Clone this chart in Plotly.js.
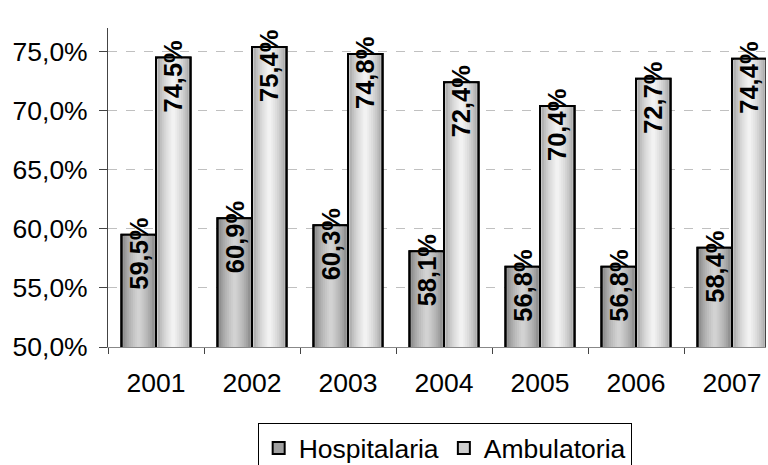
<!DOCTYPE html>
<html>
<head>
<meta charset="utf-8">
<script src="https://cdn.plot.ly/plotly-3.0.1.min.js"></script>
<style>html,body{margin:0;padding:0;background:#fff;}#chart{width:768px;height:465px;}</style>
</head>
<body>
<div id="chart"></div>
<script>
const years = ['2001', '2002', '2003', '2004', '2005', '2006', '2007'];
const hospitalaria = [59.5, 60.9, 60.3, 58.1, 56.8, 56.8, 58.4];
const ambulatoria = [74.5, 75.4, 74.8, 72.4, 70.4, 72.7, 74.4];
const yTickVals = [50, 55, 60, 65, 70, 75];
const yTickText = ['50,0%', '55,0%', '60,0%', '65,0%', '70,0%', '75,0%'];

const FONT = 'Liberation Sans, Arial, sans-serif';
const FS = 26.5;
const BAR_W = 0.36;

function lerp(a, b, t) { return Math.round(a + (b - a) * t); }
function grey(v) { return 'rgb(' + v + ',' + v + ',' + v + ')'; }

function barSeries(name, y, offset, edge, center, legendGrey) {
  const traces = [];
  const n = 9;
  const c = 0.5;
  for (let i = 0; i < n; i++) {
    const frac = 1 - i / n;
    const w = BAR_W * frac;
    const off = offset + BAR_W * c - w * c;
    const col = i === 0 ? grey(legendGrey) : grey(lerp(edge, center, Math.sqrt(i / (n - 1))));
    traces.push({
      type: 'bar', x: years, y: y, name: name,
      width: w, offset: off,
      marker: { color: col, line: { color: '#000', width: i === 0 ? 2 : 0 } },
      showlegend: i === 0, hoverinfo: i === 0 ? 'x+y' : 'skip'
    });
  }
  traces.push({
    type: 'bar', x: years, y: y, name: name,
    width: BAR_W, offset: offset,
    marker: { color: 'rgba(0,0,0,0)', line: { color: '#000', width: 2 } },
    showlegend: false, hoverinfo: 'skip'
  });
  return traces;
}

const data = [].concat(
  barSeries('Hospitalaria', hospitalaria, -BAR_W, 110, 210, 160),
  barSeries('Ambulatoria', ambulatoria, 0, 140, 242, 205)
);

function fmt(v) { return v.toFixed(1).replace('.', ',') + '%'; }

const annotations = [];
years.forEach((yr, i) => {
  annotations.push({
    x: i, y: hospitalaria[i], xref: 'x', yref: 'y',
    text: fmt(hospitalaria[i]), showarrow: false, textangle: -90,
    xanchor: 'center', yanchor: 'middle', xshift: -17, yshift: -19,
    font: { family: FONT, size: 25.5, color: '#000', weight: 'bold' }
  });
  annotations.push({
    x: i, y: ambulatoria[i], xref: 'x', yref: 'y',
    text: fmt(ambulatoria[i]), showarrow: false, textangle: -90,
    xanchor: 'center', yanchor: 'middle', xshift: 17, yshift: -19,
    font: { family: FONT, size: 25.5, color: '#000', weight: 'bold' }
  });
});

const layout = {
  width: 768, height: 465,
  margin: { l: 108, r: 2, t: 28, b: 118, autoexpand: false },
  paper_bgcolor: '#fff', plot_bgcolor: '#fff',
  font: { family: FONT, size: FS, color: '#000' },
  barmode: 'overlay',
  showlegend: true,
  xaxis: {
    type: 'category', range: [-0.5, 6.354],
    showline: true, linecolor: '#888', linewidth: 1,
    ticks: 'outside', tickson: 'boundaries', ticklen: 6, tickcolor: '#444',
    ticklabelstandoff: 12,
    showgrid: false, zeroline: false,
    tickfont: { family: FONT, size: FS, color: '#000' }
  },
  yaxis: {
    range: [50, 77],
    tickvals: yTickVals, ticktext: yTickText,
    showline: true, linecolor: '#444', linewidth: 1,
    ticks: 'outside', ticklen: 8, tickcolor: '#444',
    ticklabelstandoff: 6,
    showgrid: true, gridcolor: '#c0c0c0', griddash: 'dash', gridwidth: 1,
    zeroline: false,
    tickfont: { family: FONT, size: FS, color: '#000' }
  },
  legend: {
    orientation: 'h', xref: 'container', yref: 'container',
    x: 0.579, xanchor: 'center', y: 0.09, yanchor: 'top',
    bordercolor: '#000', borderwidth: 1, bgcolor: '#fff',
    font: { family: FONT, size: FS, color: '#000' },
    itemwidth: 30, traceorder: 'normal'
  },
  annotations: annotations
};

Plotly.newPlot('chart', data, layout, { displayModeBar: false, staticPlot: true });
</script>
</body>
</html>
